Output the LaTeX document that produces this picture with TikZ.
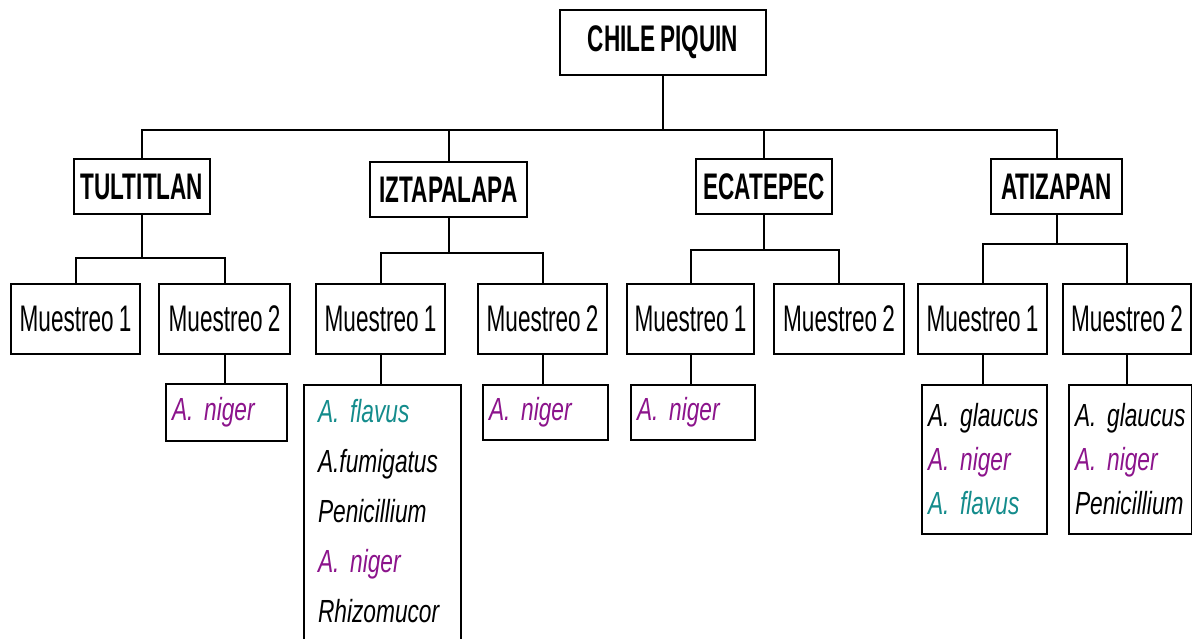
\documentclass[tikz,border=0pt]{standalone}
\usepackage{fontspec}
\setmainfont{Liberation Sans}[FakeStretch=0.61, WordSpace=0.8]
\newfontfamily\spfont{Liberation Sans}[FakeStretch=0.71, WordSpace=0.45]
\usepackage{xcolor}
\definecolor{nigercol}{RGB}{140,20,140}
\definecolor{flavuscol}{RGB}{20,140,140}

\begin{document}
\begin{tikzpicture}[x=1pt, y=-1pt, line width=2pt,
    root/.style={draw, minimum width=206pt, minimum height=65pt, font=\bfseries\fontsize{37}{40}\selectfont},
    city/.style={draw, minimum height=55pt, font=\bfseries\fontsize{37}{40}\selectfont},
    sample/.style={draw, minimum height=70pt, font=\fontsize{37}{40}\selectfont},
    fungi/.style={draw, anchor=north west, align=left, inner xsep=6pt, font=\spfont\itshape\fontsize{32}{44}\selectfont}]
    \path[use as bounding box, fill=white] (0,0) rectangle (1192,639);

    % Top of the tree
    \node[root] (chile) at (663,42.5) {CHILE PIQUIN};

    % Sampling sites
    \node[city, minimum width=136pt] (tul) at (142,186.5) {TULTITLAN};
    \node[city, minimum width=157pt] (izt) at (448.5,189.5) {IZTAPALAPA};
    \node[city, minimum width=136pt] (eca) at (764,186.5) {ECATEPEC};
    \node[city, minimum width=131pt] (ati) at (1056.5,186.5) {ATIZAPAN};

    % Samples per site
    \node[sample, minimum width=129pt] (tul1) at (75.5,319) {Muestreo 1};
    \node[sample, minimum width=131pt] (tul2) at (224.5,319) {Muestreo 2};
    \node[sample, minimum width=129pt] (izt1) at (380.5,319) {Muestreo 1};
    \node[sample, minimum width=129pt] (izt2) at (542.5,319) {Muestreo 2};
    \node[sample, minimum width=127pt] (eca1) at (690.5,319) {Muestreo 1};
    \node[sample, minimum width=130pt] (eca2) at (839,319) {Muestreo 2};
    \node[sample, minimum width=129pt] (ati1) at (982.5,319) {Muestreo 1};
    \node[sample, minimum width=128pt] (ati2) at (1127,319) {Muestreo 2};

    % Fungi found in each sample
    \node[fungi, text width=109pt, minimum height=57pt] (tul2f) at (165,383) {\textcolor{nigercol}{A. niger}};
    \node[fungi, text width=129pt, inner xsep=14pt, inner ysep=14pt, text depth=240pt,
          font=\spfont\itshape\fontsize{32}{50}\selectfont] (izt1f) at (303,384)
        {\textcolor{flavuscol}{A. flavus}\\ A.fumigatus\\ Penicillium\\ \textcolor{nigercol}{A. niger}\\ Rhizomucor};
    \node[fungi, text width=113pt, minimum height=55pt] (izt2f) at (482,384) {\textcolor{nigercol}{A. niger}};
    \node[fungi, text width=112pt, minimum height=55pt] (eca1f) at (630,384) {\textcolor{nigercol}{A. niger}};
    \node[fungi, text width=113pt, minimum height=149pt] (ati1f) at (921,384)
        {A. glaucus\\ \textcolor{nigercol}{A. niger}\\ \textcolor{flavuscol}{A. flavus}};
    \node[fungi, text width=111pt, minimum height=149pt] (ati2f) at (1068,384)
        {\mbox{A. glaucus}\\ \textcolor{nigercol}{A. niger}\\ Penicillium};

    % Main bus
    \draw (chile.south) -- ++(0,54) coordinate (bus);
    \draw (tul.north) |- (bus) -| (ati.north);
    \draw (izt.north) -- (izt.north |- bus);
    \draw (eca.north) -- (eca.north |- bus);

    % Site to samples
    \draw (tul.south) -- ++(0,43) coordinate (tulbus);
    \draw (tul1.north) |- (tulbus) -| (tul2.north);
    \draw (izt.south) -- ++(0,35) coordinate (iztbus);
    \draw (izt1.north) |- (iztbus) -| (izt2.north);
    \draw (eca.south) -- ++(0,35) coordinate (ecabus);
    \draw (eca1.north) |- (ecabus) -| (eca2.north);
    \draw (ati.south) -- ++(0,29) coordinate (atibus);
    \draw (ati1.north) |- (atibus) -| (ati2.north);

    % Samples to fungi
    \draw (tul2.south) -- (tul2.south |- tul2f.north);
    \draw (izt1.south) -- (izt1.south |- izt1f.north);
    \draw (izt2.south) -- (izt2.south |- izt2f.north);
    \draw (eca1.south) -- (eca1.south |- eca1f.north);
    \draw (ati1.south) -- (ati1.south |- ati1f.north);
    \draw (ati2.south) -- (ati2.south |- ati2f.north);
\end{tikzpicture}
\end{document}
